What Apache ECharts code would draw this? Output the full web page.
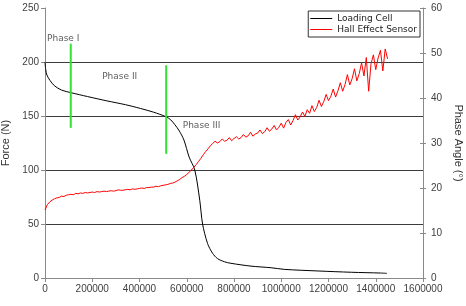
<!DOCTYPE html>
<html>
<head>
<meta charset="utf-8">
<script src="https://cdn.jsdelivr.net/npm/echarts@6/dist/echarts.min.js"></script>
<style>
  html, body { margin: 0; padding: 0; background: #fff; }
  #chart { width: 466px; height: 306px; }
</style>
</head>
<body>
<div id="chart"></div>
<script>
// Loading Cell: position vs force (N)
const loadPos = [0, 3000, 8000, 21000, 40000, 70000, 110000, 180000, 262000, 340000, 404000, 460000,
  511000, 532000, 566000, 588000, 610000, 634000, 655000, 667000, 688000, 709000, 730000, 760000,
  787000, 872000, 957000, 1013000, 1156000, 1298000, 1420000, 1447000];
const loadForce = [200, 193, 188, 183, 178, 174, 171.6, 168, 164, 160.5, 157, 153.5,
  149.4, 146.5, 137, 127.8, 112, 100, 72, 50, 32, 23, 18, 15,
  13.6, 11, 9.5, 8, 6.5, 5.3, 4.6, 4.3];

// Hall Effect Sensor: phase angle (deg), one reading every hallStep
const hallStep = 10000;
const hallAngle = [
  15.1, 16.3, 16.9, 17.3, 17.6, 17.8, 17.9, 18.2, 18.1, 18.4,
  18.5, 18.6, 18.5, 18.8, 18.7, 18.9, 18.8, 19.0, 18.9, 19.0,
  19.1, 19.0, 19.2, 19.1, 19.2, 19.3, 19.2, 19.3, 19.4, 19.3,
  19.4, 19.6, 19.5, 19.5, 19.6, 19.7, 19.6, 19.8, 19.7, 19.8,
  19.9, 20.0, 19.9, 20.1, 20.1, 20.2, 20.2, 20.4, 20.3, 20.5,
  20.6, 20.7, 20.8, 21.0, 21.1, 21.3, 21.6, 21.9, 22.3, 22.6,
  23.0, 23.5, 24.0, 24.6, 25.2, 25.9, 26.6, 27.4, 28.1, 28.7,
  29.4, 29.9, 30.4, 30.0, 30.3, 30.9, 30.4, 30.6, 31.2, 30.5,
  31.0, 31.4, 30.9, 31.2, 31.9, 31.3, 31.6, 32.4, 31.5, 32.0,
  32.2, 32.9, 32.1, 32.5, 33.4, 32.6, 33.1, 33.9, 32.9, 33.5,
  34.4, 33.3, 34.6, 35.2, 34.0, 35.0, 36.3, 35.1, 35.8, 36.9,
  35.9, 37.4, 36.6, 38.3, 37.0, 37.9, 39.5, 38.1, 39.2, 40.8,
  39.4, 40.4, 42.0, 40.2, 41.6, 43.4, 41.5, 43.0, 45.2, 42.9,
  44.3, 46.5, 43.8, 45.4, 47.8, 44.9, 49.0, 41.5, 47.6, 49.6,
  46.3, 48.9, 50.6, 46.0, 50.9, 48.7
];

// phase boundary markers (green) and phase labels
const markerPos = [109000, 513000];
const markerTop = [217, 197];
const markerBottom = [139, 115];
const phaseNames = ['Phase I', 'Phase II', 'Phase III'];
const phaseLabelPos = [8500, 242000, 583000];
const phaseLabelForce = [222, 186, 141.5];

const forceTicks = [0, 250, 50];
const angleTicks = [0, 60, 10];

const chart = echarts.init(document.getElementById('chart'));

const labelFont = { fontFamily: 'Liberation Sans', fontSize: 10, color: '#404040' };
const axisLine = { show: true, lineStyle: { color: '#8a8a8a', width: 1 } };

const markerSeries = markerPos.map((p, i) => ({
  type: 'line',
  yAxisIndex: 0,
  symbol: 'none',
  silent: true,
  lineStyle: { color: '#33e033', width: 2 },
  data: [[p, markerTop[i]], [p, markerBottom[i]]],
  z: 5
}));

chart.setOption({
  animation: false,
  grid: { left: 45, right: 43, top: 8, bottom: 28, outerBoundsMode: 'none' },
  legend: {
    data: ['Loading Cell', 'Hall Effect Sensor'],
    orient: 'vertical',
    right: 46,
    top: 11,
    backgroundColor: '#fff',
    borderColor: '#333',
    borderWidth: 1,
    borderRadius: 0,
    padding: [3, 3, 3, 2],
    itemGap: 2,
    itemWidth: 22,
    itemHeight: 1,
    icon: 'rect',
    textStyle: { fontFamily: 'DejaVu Sans', fontSize: 9, color: '#222' }
  },
  xAxis: {
    type: 'value',
    min: 0,
    max: 1600000,
    interval: 200000,
    axisLine: axisLine,
    axisTick: { show: true, length: 4, lineStyle: { color: '#8a8a8a' } },
    axisLabel: Object.assign({ margin: 6, formatter: (v) => String(v) }, labelFont),
    splitLine: { show: false }
  },
  yAxis: [
    {
      type: 'value',
      min: forceTicks[0],
      max: forceTicks[1],
      interval: forceTicks[2],
      name: 'Force (N)',
      nameLocation: 'middle',
      nameGap: 31,
      nameTextStyle: { fontFamily: 'Liberation Sans', fontSize: 11, color: '#333' },
      axisLine: axisLine,
      axisTick: { show: true, length: 4, lineStyle: { color: '#8a8a8a' } },
      axisLabel: Object.assign({ margin: 6 }, labelFont),
      splitLine: { show: true, showMinLine: false, showMaxLine: false, lineStyle: { color: '#3c3c3c', width: 1 } }
    },
    {
      type: 'value',
      position: 'right',
      min: angleTicks[0],
      max: angleTicks[1],
      interval: angleTicks[2],
      name: 'Phase Angle (\u00b0)',
      nameLocation: 'middle',
      nameRotate: -90,
      nameGap: 27,
      nameTextStyle: { fontFamily: 'Liberation Sans', fontSize: 11, color: '#333' },
      axisLine: axisLine,
      axisTick: { show: true, length: 3, lineStyle: { color: '#8a8a8a' } },
      axisLabel: Object.assign({ margin: 8 }, labelFont),
      splitLine: { show: false }
    },
    {
      type: 'value',
      position: 'right',
      min: angleTicks[0],
      max: angleTicks[1],
      interval: angleTicks[2],
      axisLine: { show: false },
      axisTick: { show: true, inside: true, length: 3, lineStyle: { color: '#8a8a8a' } },
      axisLabel: { show: false },
      splitLine: { show: false }
    }
  ],
  series: [
    {
      name: 'Loading Cell',
      type: 'line',
      yAxisIndex: 0,
      symbol: 'none',
      smooth: 0.3,
      lineStyle: { color: '#000', width: 1 },
      itemStyle: { color: '#000' },
      data: loadPos.map((p, i) => [p, loadForce[i]]),
      z: 2
    },
    {
      name: 'Hall Effect Sensor',
      type: 'line',
      yAxisIndex: 1,
      symbol: 'none',
      lineStyle: { color: '#ff0000', width: 1 },
      itemStyle: { color: '#ff0000' },
      data: hallAngle.map((a, i) => [i * hallStep, a]),
      z: 3
    },
    ...markerSeries,
    {
      type: 'scatter',
      yAxisIndex: 0,
      symbolSize: 0,
      silent: true,
      label: {
        show: true,
        position: 'right',
        distance: 0,
        formatter: (p) => phaseNames[p.dataIndex],
        fontFamily: 'DejaVu Sans',
        fontSize: 9,
        color: '#333'
      },
      data: phaseLabelPos.map((p, i) => [p, phaseLabelForce[i]]),
      z: 6
    }
  ]
});
</script>
</body>
</html>
